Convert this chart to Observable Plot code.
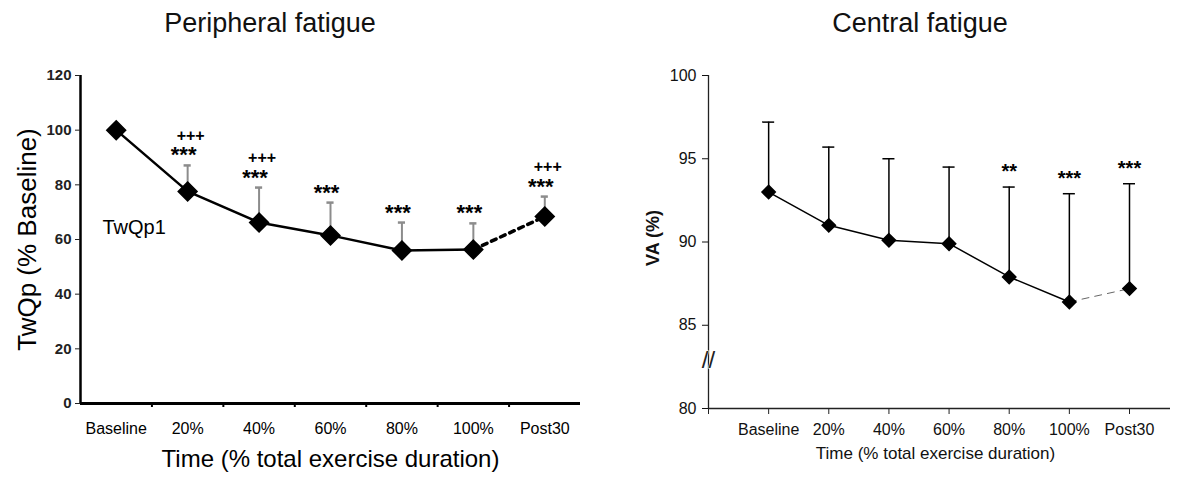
<!DOCTYPE html>
<html><head><meta charset="utf-8">
<script src="https://cdn.jsdelivr.net/npm/d3@7"></script>
<script src="https://cdn.jsdelivr.net/npm/@observablehq/plot@0.6"></script>
<style>
body{margin:0;background:#fff;font-family:Arial,"Liberation Sans",sans-serif;}
#wrap{position:relative;width:1181px;height:479px;overflow:hidden;background:#fff;}
.title{position:absolute;top:10px;font-size:27px;line-height:1;color:#111;text-align:center;}
#left{position:absolute;left:0;top:50px;}
#right{position:absolute;left:590px;top:50px;}
</style></head><body>
<div id="wrap">
<div class="title" style="left:0;width:540px;">Peripheral fatigue</div>
<div class="title" style="left:660px;width:520px;">Central fatigue</div>
<div id="left"></div><div id="right"></div>
</div>
<script>
// categories
const timepoints = ["Baseline", "20%", "40%", "60%", "80%", "100%", "Post30"];
// Peripheral fatigue (TwQp1, % baseline)
const twqpMean  = [100, 77.6, 66.2, 61.5, 56.0, 56.3, 68.4];
const twqpUpper = [null, 87.1, 79.0, 73.5, 66.2, 65.9, 75.7];
const twqpStars = ["", "***", "***", "***", "***", "***", "***"];
const twqpPlus  = ["", "+++", "+++", "", "", "", "+++"];
const twqpTicks = [0, 20, 40, 60, 80, 100, 120];
// Central fatigue (VA, %)
const vaMean  = [93.0, 91.0, 90.1, 89.9, 87.9, 86.4, 87.2];
const vaUpper = [97.2, 95.7, 95.0, 94.5, 93.3, 92.9, 93.5];
const vaStars = ["", "", "", "", "**", "***", "***"];
const vaTicks = [80, 85, 90, 95, 100];

const FONT = 'Arial, "Liberation Sans", sans-serif';

// ---------- left panel ----------
const L = timepoints.map((t, k) => ({t, i: k + 0.5, mean: twqpMean[k], upper: twqpUpper[k], stars: twqpStars[k], plus: twqpPlus[k]}));
const Lerr = L.filter(d => d.upper != null);

const left = Plot.plot({
  width: 590, height: 429,
  marginLeft: 80, marginRight: 10, marginTop: 25, marginBottom: 76,
  x: {type: "linear", domain: [0, 7], label: null},
  y: {type: "linear", domain: [0, 120], label: null},
  style: {fontFamily: FONT, background: "transparent", overflow: "visible", color: "#000"},
  marks: [
    Plot.ruleX(Lerr, {x: "i", y1: "mean", y2: "upper", stroke: "#8c8c8c", strokeWidth: 2}),
    Plot.ruleY(Lerr, {x1: d => d.i - 0.05, x2: d => d.i + 0.05, y: "upper", stroke: "#8c8c8c", strokeWidth: 2.5}),
    Plot.line(L.slice(0, 6), {x: "i", y: "mean", stroke: "#000", strokeWidth: 2.5}),
    Plot.line(L.slice(5), {x: "i", y: "mean", stroke: "#000", strokeWidth: 3.5, strokeDasharray: "5,5"}),
    Plot.dot(L, {x: "i", y: "mean", symbol: "diamond2", r: 8.5, fill: "#000", stroke: "#000"}),
    Plot.text(Lerr, {x: "i", y: "upper", text: "stars", dx: -4, dy: -10, fontSize: 22, fontWeight: "bold", fill: "#000"}),
    Plot.text(Lerr, {x: "i", y: "upper", text: "plus", dx: 3, dy: -30, fontSize: 16, fontWeight: "bold", fill: "#000"}),
    Plot.text(["TwQp1"], {frameAnchor: "left", dx: 22, dy: -12, textAnchor: "start", fontSize: 20, fill: "#000"}),
    Plot.ruleY([0], {stroke: "#000", strokeWidth: 3}),
    Plot.ruleX([0], {stroke: "#000", strokeWidth: 2.5}),
    Plot.axisY({ticks: twqpTicks, tickSize: 5, tickPadding: 4, fontSize: 15, fontWeight: "bold", color: "#222", label: null}),
    Plot.axisX({ticks: d3.range(1, 7), tickSize: 4, tickFormat: () => "", strokeWidth: 2, label: null}),
    Plot.axisX({ticks: L.map(d => d.i), tickSize: 0, tickPadding: 19, fontSize: 16, tickFormat: d => timepoints[Math.floor(d)], label: null}),
    Plot.text(["Time (% total exercise duration)"], {frameAnchor: "bottom", dy: 63, fontSize: 24, fill: "#000"}),
    Plot.text(["TwQp (% Baseline)"], {frameAnchor: "left", textAnchor: "middle", rotate: -90, dx: -53, dy: 0, fontSize: 26, fill: "#000"})
  ]
});
document.getElementById("left").append(left);

// ---------- right panel ----------
const R = timepoints.map((t, k) => ({t, i: k + 1, mean: vaMean[k], upper: vaUpper[k], stars: vaStars[k]}));

const right = Plot.plot({
  width: 591, height: 429,
  marginLeft: 118, marginRight: 11, marginTop: 25, marginBottom: 71,
  x: {type: "linear", domain: [0, 7], insetRight: 41, label: null},
  y: {type: "linear", domain: [80, 100], label: null},
  style: {fontFamily: FONT, background: "transparent", overflow: "visible", color: "#000"},
  marks: [
    Plot.ruleX(R, {x: "i", y1: "mean", y2: "upper", stroke: "#000", strokeWidth: 1.5}),
    Plot.ruleY(R, {x1: d => d.i - 0.1, x2: d => d.i + 0.1, y: "upper", stroke: "#000", strokeWidth: 1.5}),
    Plot.line(R.slice(0, 6), {x: "i", y: "mean", stroke: "#000", strokeWidth: 1.5}),
    Plot.line(R.slice(5), {x: "i", y: "mean", stroke: "#666", strokeWidth: 1, strokeDasharray: "7,6"}),
    Plot.dot(R, {x: "i", y: "mean", symbol: "diamond2", r: 6, fill: "#000", stroke: "#000"}),
    Plot.text(R, {x: "i", y: "upper", text: "stars", dy: -15, fontSize: 20, fontWeight: "bold", fill: "#000"}),
    Plot.ruleY([80], {stroke: "#222", strokeWidth: 1.3}),
    Plot.ruleX([0], {stroke: "#222", strokeWidth: 1.3}),
    Plot.text(["//"], {frameAnchor: "bottom-left", textAnchor: "middle", dy: -41, fontSize: 24, fill: "#222", stroke: "white", strokeWidth: 1}),
    Plot.axisY({ticks: vaTicks, tickSize: 6, tickPadding: 6, fontSize: 16, color: "#111", label: null}),
    Plot.axisX({ticks: d3.range(0, 8), tickSize: 6, tickFormat: () => "", color: "#222", label: null}),
    Plot.axisX({ticks: R.map(d => d.i), tickSize: 0, tickPadding: 15, fontSize: 16, tickFormat: d => timepoints[d - 1], color: "#111", label: null}),
    Plot.text(["Time (% total exercise duration)"], {frameAnchor: "bottom", dx: -4, dy: 50, fontSize: 17, fill: "#111"}),
    Plot.text(["VA (%)"], {frameAnchor: "left", textAnchor: "middle", rotate: -90, dx: -55, dy: -4, fontSize: 18, fontWeight: "bold", fill: "#111"})
  ]
});
document.getElementById("right").append(right);
</script>
</body></html>
